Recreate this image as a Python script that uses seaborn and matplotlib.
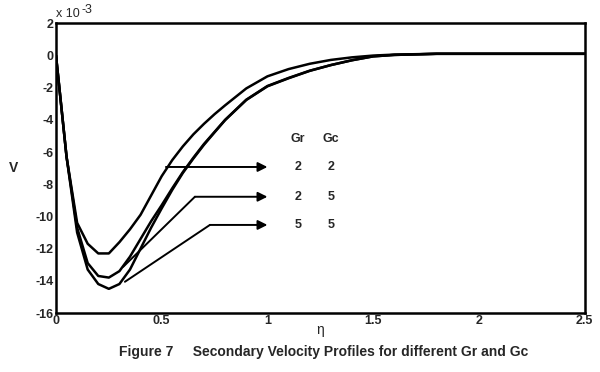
import numpy as np
import pandas as pd
import matplotlib
matplotlib.use('Agg')
import matplotlib.pyplot as plt
import seaborn as sns

# Valores (V em unidades de 1e-3)
eta = [0, 0.05, 0.1, 0.15, 0.2, 0.25, 0.3, 0.35, 0.4, 0.45, 0.5,
       0.55, 0.6, 0.65, 0.7, 0.75, 0.8, 0.9, 1.0, 1.1, 1.2, 1.3,
       1.4, 1.5, 1.6, 1.8, 2.0, 2.5]
v_gr2_gc2 = [0, -6.3, -10.4, -11.7, -12.3, -12.3, -11.6, -10.8, -9.9, -8.7, -7.5,
             -6.5, -5.65, -4.9, -4.25, -3.65, -3.1, -2.05, -1.3, -0.85, -0.52, -0.28,
             -0.12, -0.01, 0.05, 0.1, 0.1, 0.1]
v_gr2_gc5 = [0, -6.3, -10.7, -12.9, -13.7, -13.8, -13.4, -12.5, -11.4, -10.3, -9.3,
             -8.25, -7.25, -6.35, -5.5, -4.75, -4.0, -2.75, -1.9, -1.4, -0.95, -0.6,
             -0.3, -0.06, 0.03, 0.1, 0.1, 0.1]
v_gr5_gc5 = [0, -6.3, -11.0, -13.3, -14.2, -14.5, -14.2, -13.3, -12.0, -10.7, -9.5,
             -8.35, -7.3, -6.4, -5.55, -4.78, -4.02, -2.77, -1.92, -1.42, -0.96, -0.6,
             -0.3, -0.06, 0.03, 0.1, 0.1, 0.1]

gr_vals = ['2', '2', '5']
gc_vals = ['2', '5', '5']

# pontos de partida das setas (sobre as curvas) e cotovelos
arrow_start = [(0.52, -6.93), (0.318, -13.13), (0.326, -14.06)]
arrow_elbow = [(0.52, -6.93), (0.657, -8.78), (0.728, -10.53)]
arrow_end_x = 1.0

df = pd.concat([
    pd.DataFrame({'eta': eta, 'V': v_gr2_gc2, 'caso': 'Gr=2 Gc=2'}),
    pd.DataFrame({'eta': eta, 'V': v_gr2_gc5, 'caso': 'Gr=2 Gc=5'}),
    pd.DataFrame({'eta': eta, 'V': v_gr5_gc5, 'caso': 'Gr=5 Gc=5'}),
])

sns.set_style('white')
plt.rcParams['font.family'] = ['Liberation Sans', 'DejaVu Sans']
plt.rcParams['axes.unicode_minus'] = False

fig = plt.figure(figsize=(6, 3.72), dpi=100)
ax = fig.add_axes([0.0933, 0.1586, 0.881, 0.779])

sns.lineplot(data=df, x='eta', y='V', units='caso', estimator=None, sort=False,
             color='black', linewidth=1.8, ax=ax, legend=False)

# setas de identificação
for (x0, y0), (x1, y1) in zip(arrow_start, arrow_elbow):
    ax.plot([x0, x1], [y0, y1], color='black', linewidth=1.4)
    ax.annotate('', xy=(arrow_end_x, y1), xytext=(x1, y1),
                arrowprops=dict(arrowstyle='-|>', color='black', lw=1.4,
                                mutation_scale=14, shrinkA=0, shrinkB=0))

# tabela de legenda
ax.text(1.145, -5.2, 'Gr', fontsize=9, fontweight='bold', ha='center', va='center')
ax.text(1.30, -5.2, 'Gc', fontsize=9, fontweight='bold', ha='center', va='center')
for (x1, y1), gr, gc in zip(arrow_elbow, gr_vals, gc_vals):
    ax.text(1.145, y1, gr, fontsize=9, fontweight='bold', ha='center', va='center')
    ax.text(1.30, y1, gc, fontsize=9, fontweight='bold', ha='center', va='center')

ax.set_xlim(0, 2.5)
ax.set_ylim(-16, 2)
ax.set_xticks([0, 0.5, 1, 1.5, 2, 2.5])
ax.set_xticklabels(['0', '0.5', '1', '1.5', '2', '2.5'])
ax.set_yticks(range(-16, 3, 2))
ax.tick_params(direction='in', length=3, width=0.8, color='#888888',
               labelsize=9, pad=1.5)
for lab in ax.get_xticklabels() + ax.get_yticklabels():
    lab.set_fontweight('bold')

for sp in ax.spines.values():
    sp.set_linewidth(1.8)
    sp.set_color('black')

ax.set_xlabel('η', fontsize=10, labelpad=-3)
ax.set_ylabel('V', fontsize=10, fontweight='bold', rotation=0, labelpad=16, va='center')

ax.text(0.0, 1.01, 'x 10', transform=ax.transAxes,
        fontsize=9, ha='left', va='bottom')
ax.text(0.048, 1.025, '-3', transform=ax.transAxes,
        fontsize=9, ha='left', va='bottom')

fig.text(0.54, 0.054, 'Figure 7     Secondary Velocity Profiles for different Gr and Gc',
         fontsize=10, fontweight='bold', ha='center', va='center')

fig.savefig('out.png', dpi=100)
